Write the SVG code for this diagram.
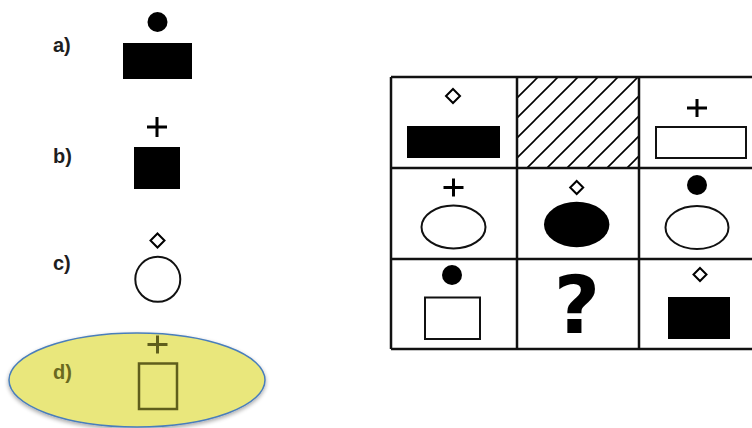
<svg xmlns="http://www.w3.org/2000/svg" width="752" height="428" viewBox="0 0 752 428">
<style>
.lbl{font-family:"Liberation Sans",Arial,sans-serif;font-weight:bold;font-size:20px;fill:#1e1e1e}
.blk{fill:#000}
.out{fill:#fff;stroke:#111;stroke-width:2}
.grid{stroke:#111;stroke-width:2.5;fill:none}
.dia{fill:#fff;stroke:#000;stroke-width:2}
.plus{stroke:#000;stroke-width:3;fill:none}
.olive{stroke:#5f5e1c;fill:none}
</style>
<defs>
<symbol id="diamond" overflow="visible"><path d="M0,-7 L7,0 L0,7 L-7,0 Z"/></symbol>
<pattern id="hatch" patternUnits="userSpaceOnUse" x="15" y="0" width="20" height="20">
<path d="M-5,5 L5,-5 M0,20 L20,0 M15,25 L25,15" stroke="#000" stroke-width="1.6"/>
</pattern>
<filter id="sh" x="-10%" y="-10%" width="120%" height="130%">
<feGaussianBlur in="SourceAlpha" stdDeviation="2"/>
<feOffset dy="2"/>
<feComponentTransfer><feFuncA type="linear" slope="0.35"/></feComponentTransfer>
<feMerge><feMergeNode/><feMergeNode in="SourceGraphic"/></feMerge>
</filter>
</defs>
<rect width="752" height="428" fill="#fff"/>

<!-- options -->
<g id="option-a">
<text class="lbl" x="53" y="52">a)</text>
<circle class="blk" cx="157.5" cy="22" r="10"/>
<rect class="blk" x="123" y="43" width="69" height="36"/>
</g>
<g id="option-b">
<text class="lbl" x="53" y="163">b)</text>
<path class="plus" d="M147,127 H167 M157,117 V137"/>
<rect class="blk" x="134" y="147" width="46" height="42"/>
</g>
<g id="option-c">
<text class="lbl" x="53" y="270">c)</text>
<path class="dia" d="M157.5,233.5 L164.5,240.5 L157.5,247.5 L150.5,240.5 Z"/>
<circle class="out" cx="157.8" cy="279.3" r="22.5"/>
</g>
<g id="option-d">
<ellipse cx="137" cy="380" rx="128" ry="47" fill="#e9e77b" stroke="#4a7ebb" stroke-width="1.5" filter="url(#sh)"/>
<text class="lbl" x="53" y="379" style="fill:#6a691f">d)</text>
<path class="olive" stroke-width="3" d="M147.5,344.5 H167.5 M157.5,335.5 V353.5"/>
<rect class="olive" stroke-width="2.5" x="139" y="363.5" width="38" height="45.5"/>
</g>

<!-- grid -->
<g id="matrix-grid">
<rect x="517" y="77" width="122" height="91" fill="url(#hatch)"/>
<path class="grid" d="M391,77 H752 M391,168 H752 M391,259 H752 M391,349 H752 M391,77 V349 M517,77 V349 M639,77 V349"/>
</g>

<g id="cell-r1c1">
<path class="dia" d="M453,89 L460,96 L453,103 L446,96 Z"/>
<rect class="blk" x="407" y="126" width="93" height="32"/>
</g>
<g id="cell-r1c2"></g>
<g id="cell-r1c3">
<path class="plus" d="M687,108 H707 M697,99 V117"/>
<rect class="out" x="656" y="127" width="90" height="31"/>
</g>

<g id="cell-r2c1">
<path class="plus" d="M443.5,187.5 H463.5 M453.5,178.5 V196.5"/>
<ellipse class="out" cx="453.5" cy="227" rx="32" ry="21.5"/>
</g>
<g id="cell-r2c2">
<path class="dia" d="M576.7,181 L583.2,187.5 L576.7,194 L570.2,187.5 Z"/>
<ellipse class="blk" cx="576.7" cy="224.5" rx="32.7" ry="22.8"/>
</g>
<g id="cell-r2c3">
<circle class="blk" cx="697" cy="185" r="10"/>
<ellipse class="out" cx="697" cy="227.5" rx="31.5" ry="21.5"/>
</g>

<g id="cell-r3c1">
<circle class="blk" cx="452" cy="275" r="10"/>
<rect class="out" x="425" y="297.5" width="55" height="41.5"/>
</g>
<g id="cell-r3c2">
<text x="577" y="333" text-anchor="middle" style="font-family:'DejaVu Sans',sans-serif;font-weight:bold;font-size:80px;fill:#000">?</text>
</g>
<g id="cell-r3c3">
<path class="dia" d="M700,268 L706.5,274.5 L700,281 L693.5,274.5 Z"/>
<rect class="blk" x="668" y="297" width="62" height="42"/>
</g>
</svg>
